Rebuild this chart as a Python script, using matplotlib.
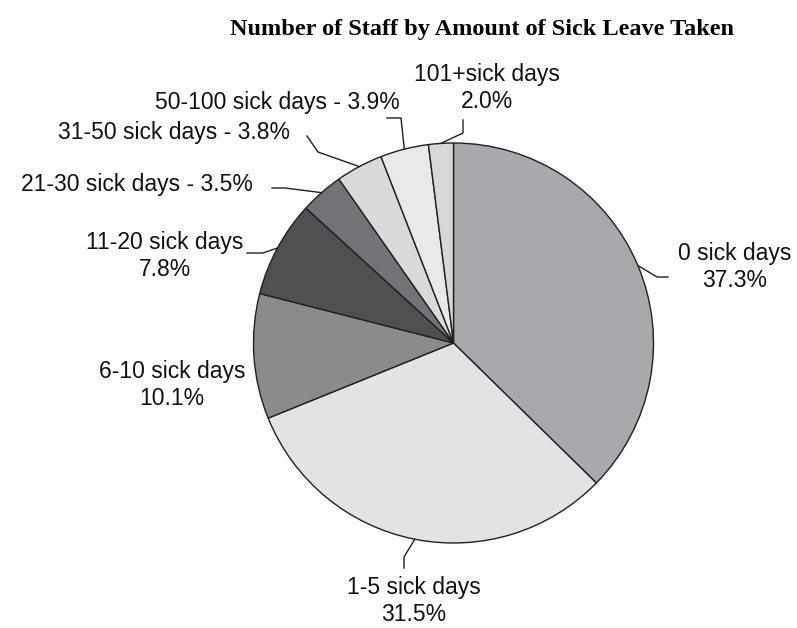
import numpy as np
import matplotlib.pyplot as plt

labels = ["0 sick days", "1-5 sick days", "6-10 sick days", "11-20 sick days",
          "21-30 sick days", "31-50 sick days", "50-100 sick days", "101+sick days"]
shares = [37.3, 31.5, 10.1, 7.8, 3.5, 3.8, 3.9, 2.0]
colors = ["#a7a9ac", "#e2e3e5", "#8a8b8d", "#505052",
          "#727376", "#d9dadc", "#e8e9eb", "#d7d8da"]
# label on one line ("name - x%") or two lines
one_line = [False, False, False, False, True, True, True, False]

W, H = 797, 628
CX, CY, R = 453.5, 343, 200  # pie centre and radius in pixels


def px(x, y):
    # pixel position -> data units (pie radius = 1)
    return (x - CX) / R, (CY - y) / R


# text anchor (px), alignment, leader elbow points (px)
layout = [
    ((735, 267), "center", [(657, 277), (668, 277)]),
    ((414, 601), "center", [(404, 557), (404, 568)]),
    ((172, 385), "center", []),
    ((165, 256), "center", [(263, 253), (247, 253)]),
    ((253, 185), "right", [(285, 188), (272, 188)]),
    ((290, 132), "right", [(318, 152), (307, 136)]),
    ((400, 102), "right", [(401, 118), (387, 118)]),
    ((487, 88), "center", [(463, 133), (463, 120)]),
]

fig = plt.figure(figsize=(W / 100, H / 100), dpi=100)
ax = fig.add_axes([0, 0, 1, 1])

wedges, _ = ax.pie(shares, colors=colors, startangle=90, counterclock=False,
                   radius=1, center=(0, 0), normalize=True,
                   wedgeprops=dict(edgecolor="#231f20", linewidth=1.0))

ax.set_xlim(-CX / R, (W - CX) / R)
ax.set_ylim(-(H - CY) / R, CY / R)
ax.set_aspect("equal", adjustable="datalim")
ax.axis("off")

for w, name, val, single, (pos, ha, elbows) in zip(wedges, labels, shares, one_line, layout):
    txt = f"{name} - {val:.1f}%" if single else f"{name}\n{val:.1f}%"
    tx, ty = px(*pos)
    ax.text(tx, ty, txt, ha=ha, va="center", fontsize=16.5,
            family="Liberation Sans", color="#111111", linespacing=1.25,
            multialignment="center")
    if elbows:
        mid = np.deg2rad((w.theta1 + w.theta2) / 2)
        xs = [np.cos(mid)] + [px(*p)[0] for p in elbows]
        ys = [np.sin(mid)] + [px(*p)[1] for p in elbows]
        ax.plot(xs, ys, color="#231f20", linewidth=1.0)

fig.text(482 / W, 1 - 30 / H, "Number of Staff by Amount of Sick Leave Taken",
         ha="center", va="center", fontsize=17.5, fontweight="bold",
         family="Liberation Serif")

fig.savefig("out.png", dpi=100)
